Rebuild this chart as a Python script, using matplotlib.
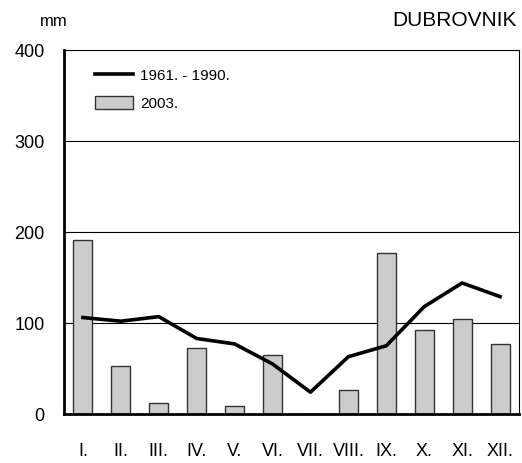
import matplotlib
matplotlib.use("Agg")
import matplotlib.pyplot as plt
import numpy as np
from matplotlib.lines import Line2D
from matplotlib.patches import Patch

plt.rcParams['font.family'] = ['Liberation Sans', 'DejaVu Sans']

months = ["I.", "II.", "III.", "IV.", "V.", "VI.", "VII.", "VIII.", "IX.", "X.", "XI.", "XII."]
precip_2003 = [191, 53, 12, 73, 8.5, 65, 0, 26.6, 177, 92, 104, 77]
precip_1961_1990 = [106, 102, 107, 83, 77, 55, 24, 63, 75, 118, 144, 129]
yticks = [0, 100, 200, 300, 400]

fig = plt.figure(figsize=(5.22, 4.63), dpi=100)
ax = fig.add_axes([0.1226, 0.1058, 0.8717, 0.7862])

x = np.arange(len(months))
ax.bar(x, precip_2003, width=0.5, color='#cccccc', edgecolor='#333333', linewidth=1.0, zorder=2)
ax.plot(x, precip_1961_1990, color='black', linewidth=2.6, zorder=3)

ax.set_xlim(-0.5, len(months) - 0.5)
ax.set_ylim(0, 400)
ax.set_yticks(yticks)
ax.set_yticklabels([str(v) for v in yticks], fontsize=13)
ax.set_xticks(x)
ax.set_xticklabels(months, fontsize=13)
ax.tick_params(axis='both', length=0)
ax.tick_params(axis='x', pad=21)
ax.tick_params(axis='y', pad=14)
for yv in yticks[1:-1]:
    ax.axhline(yv, color='black', linewidth=0.8, zorder=1)

ax.spines['left'].set_linewidth(2.0)
ax.spines['bottom'].set_linewidth(2.0)
ax.spines['top'].set_linewidth(0.8)
ax.spines['right'].set_linewidth(0.8)

handles = [Line2D([0], [0], color='black', linewidth=2.6),
           Patch(facecolor='#cccccc', edgecolor='#333333', linewidth=1.0)]
leg = ax.legend(handles, ["1961. - 1990.", "2003."], loc='upper left', frameon=False,
                fontsize=11, bbox_to_anchor=(0.055, 0.967), handlelength=2.5, handleheight=0.9,
                labelspacing=0.9, handletextpad=0.45, borderaxespad=0.0)

fig.text(40/522, 1 - 22/463, "mm", fontsize=12, va='center', ha='left')
fig.text(517/522, 1 - 21/463, "DUBROVNIK", fontsize=15, va='center', ha='right')

fig.savefig("out.png", dpi=100)
